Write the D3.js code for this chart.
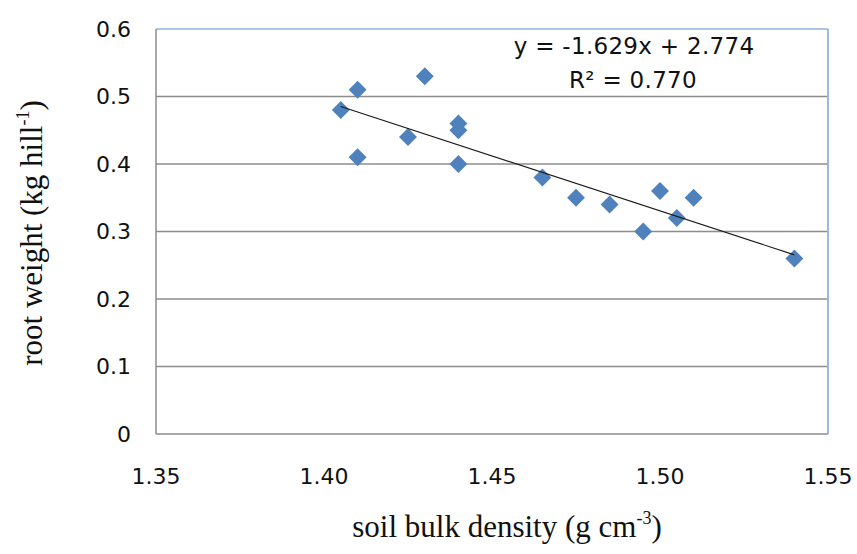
<!DOCTYPE html>
<html>
<head>
<meta charset="utf-8">
<script src="https://cdn.jsdelivr.net/npm/d3@7"></script>
<style>
  html, body { margin: 0; padding: 0; background: #ffffff; }
  svg { display: block; }
</style>
</head>
<body>
<svg id="chart" width="857" height="554"></svg>
<script>
// ---- data ----
const bulkDensity = [1.405, 1.41, 1.41, 1.43, 1.425, 1.44, 1.44, 1.44, 1.465, 1.475, 1.485, 1.50, 1.495, 1.505, 1.51, 1.54];
const rootWeight  = [0.48, 0.51, 0.41, 0.53, 0.44, 0.46, 0.45, 0.40, 0.38, 0.35, 0.34, 0.36, 0.30, 0.32, 0.35, 0.26];
const xTicks = [1.35, 1.40, 1.45, 1.50, 1.55];
const yTicks = [0, 0.1, 0.2, 0.3, 0.4, 0.5, 0.6];
const slope = -1.629;
const intercept = 2.774;
const rSquared = 0.770;
const trendRange = [1.405, 1.54];

// ---- layout ----
const svg = d3.select("#chart");
const pL = 156, pR = 828, pT = 29, pB = 434;
const x = d3.scaleLinear().domain([1.35, 1.55]).range([pL, pR]);
const y = d3.scaleLinear().domain([0, 0.6]).range([pB, pT]);

// gridlines
svg.append("g").selectAll("line")
  .data(yTicks.filter(v => v > 0 && v < 0.6))
  .join("line")
  .attr("x1", pL).attr("x2", pR)
  .attr("y1", d => y(d)).attr("y2", d => y(d))
  .attr("stroke", "#8c8c8c").attr("stroke-width", 1.3);

// frame: top & right blue, left & bottom gray
svg.append("line").attr("x1", pL).attr("x2", pR).attr("y1", pT).attr("y2", pT)
  .attr("stroke", "#8db3e2").attr("stroke-width", 1.5);
svg.append("line").attr("x1", pR).attr("x2", pR).attr("y1", pT).attr("y2", pB)
  .attr("stroke", "#8db3e2").attr("stroke-width", 1.8);
svg.append("line").attr("x1", pL).attr("x2", pL).attr("y1", pT).attr("y2", pB)
  .attr("stroke", "#8c8c8c").attr("stroke-width", 1.5);
svg.append("line").attr("x1", pL).attr("x2", pR).attr("y1", pB).attr("y2", pB)
  .attr("stroke", "#8c8c8c").attr("stroke-width", 1.5);

// y tick labels
svg.append("g").selectAll("text")
  .data(yTicks).join("text")
  .attr("x", 131).attr("y", d => y(d))
  .attr("dy", "0.36em")
  .attr("text-anchor", "end")
  .attr("font-family", "DejaVu Sans, Verdana, sans-serif")
  .attr("font-size", 22)
  .attr("fill", "#111")
  .text(d => d === 0 ? "0" : d3.format(".1f")(d));

// x tick labels
svg.append("g").selectAll("text")
  .data(xTicks).join("text")
  .attr("x", d => x(d)).attr("y", 484)
  .attr("text-anchor", "middle")
  .attr("font-family", "DejaVu Sans, Verdana, sans-serif")
  .attr("font-size", 22)
  .attr("fill", "#111")
  .text(d => d3.format(".2f")(d));

// markers
const sym = d3.symbol().type(d3.symbolSquare).size(160);
const pts = bulkDensity.map((v, i) => [v, rootWeight[i]]);
svg.append("g").selectAll("path")
  .data(pts).join("path")
  .attr("d", sym)
  .attr("transform", d => `translate(${x(d[0])},${y(d[1])}) rotate(45)`)
  .attr("fill", "#4f81bd");

// trend line
svg.append("line")
  .attr("x1", x(trendRange[0])).attr("y1", y(slope * trendRange[0] + intercept))
  .attr("x2", x(trendRange[1])).attr("y2", y(slope * trendRange[1] + intercept))
  .attr("stroke", "#1a1a1a").attr("stroke-width", 1.1);

// equation
const eq = svg.append("g")
  .attr("font-family", "DejaVu Sans, Verdana, sans-serif")
  .attr("font-size", 23)
  .attr("fill", "#111")
  .attr("text-anchor", "middle");
eq.append("text").attr("x", 634).attr("y", 54)
  .attr("letter-spacing", 0.3)
  .text(`y = ${slope.toFixed(3)}x + ${intercept.toFixed(3)}`);
eq.append("text").attr("x", 633).attr("y", 88)
  .attr("letter-spacing", 0.3)
  .text(`R² = ${rSquared.toFixed(3)}`);

// axis titles
const xt = svg.append("text")
  .attr("x", 507).attr("y", 537)
  .attr("text-anchor", "middle")
  .attr("font-family", "Liberation Serif, Times New Roman, serif")
  .attr("font-size", 31)
  .attr("fill", "#111");
xt.append("tspan").text("soil bulk density (g cm");
xt.append("tspan").attr("font-size", 18).attr("dy", -13).text("-3");
xt.append("tspan").attr("dy", 13).text(")");

const yt = svg.append("text")
  .attr("transform", "translate(42,233) rotate(-90)")
  .attr("text-anchor", "middle")
  .attr("font-family", "Liberation Serif, Times New Roman, serif")
  .attr("font-size", 31)
  .attr("fill", "#111");
yt.append("tspan").text("root weight (kg hill");
yt.append("tspan").attr("font-size", 18).attr("dy", -13).text("-1");
yt.append("tspan").attr("dy", 13).text(")");
</script>
</body>
</html>
